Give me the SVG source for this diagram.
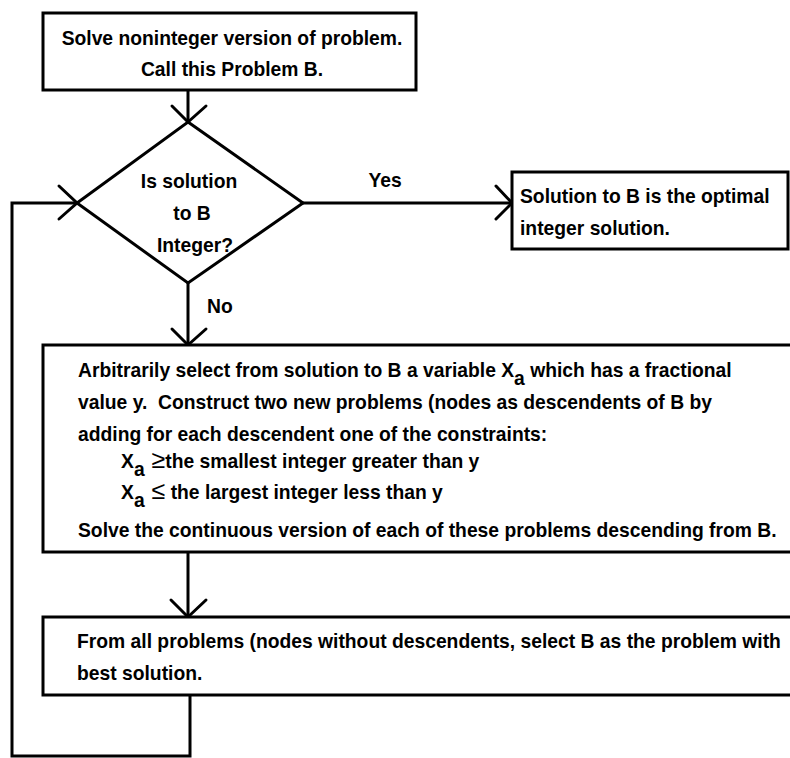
<svg xmlns="http://www.w3.org/2000/svg" width="790" height="758" viewBox="0 0 790 758">
  <style>
    .box { fill: #fff; stroke: #000; stroke-width: 3; }
    .wire { fill: none; stroke: #000; stroke-width: 3; }
    .head { fill: none; stroke: #000; stroke-width: 3; stroke-linecap: round; }
    text { font-family: "Liberation Sans", Arial, sans-serif; font-weight: bold; font-size: 19.3px; fill: #000; }
    .c { text-anchor: middle; }
    .rel { font-size: 25px; font-weight: normal; }
  </style>
  <rect width="790" height="758" fill="#fff"/>

  <!-- connectors -->
  <g id="connectors">
    <line class="wire" x1="188" y1="90" x2="188" y2="122"/>
    <polyline class="head" points="172,106 188,122 206,106"/>

    <line class="wire" x1="303" y1="203" x2="512" y2="203"/>
    <polyline class="head" points="496,186 512,203 496,219"/>
    <text x="385" y="187" class="c">Yes</text>

    <line class="wire" x1="188" y1="283" x2="188" y2="345"/>
    <polyline class="head" points="172,329 188,345 206,329"/>
    <text x="207" y="313">No</text>

    <line class="wire" x1="188" y1="552" x2="188" y2="617"/>
    <polyline class="head" points="171,600 188,617 206,600"/>

    <polyline class="wire" points="190,695 190,756 12,756 12,203 77,203"/>
    <polyline class="head" points="59,186 77,203 59,219"/>
  </g>

  <g id="start">
    <rect class="box" x="43" y="13" width="373" height="77"/>
    <text x="232" y="45" class="c">Solve noninteger version of problem.</text>
    <text x="232" y="76" class="c">Call this Problem B.</text>
  </g>

  <g id="decision">
    <polygon class="box" points="188,122 303,203 188,283 77,203"/>
    <text x="189" y="188" class="c">Is solution</text>
    <text x="192" y="220" class="c">to B</text>
    <text x="195" y="252" class="c">Integer?</text>
  </g>

  <g id="optimal">
    <rect class="box" x="512" y="172" width="276" height="77"/>
    <text x="520" y="203">Solution to B is the optimal</text>
    <text x="520" y="235">integer solution.</text>
  </g>

  <g id="branch">
    <rect class="box" x="43" y="345" width="770" height="207"/>
    <text x="78" y="377">Arbitrarily select from solution to B a variable X<tspan dy="8">a</tspan><tspan dy="-8"> which has a fractional</tspan></text>
    <text x="78" y="409" xml:space="preserve">value y.  Construct two new problems (nodes as descendents of B by</text>
    <text x="78" y="441">adding for each descendent one of the constraints:</text>
    <text x="121" y="468">X<tspan dy="8">a</tspan><tspan dy="-8" class="rel"> ≥</tspan>the smallest integer greater than y</text>
    <text x="121" y="499">X<tspan dy="8">a</tspan><tspan dy="-8" class="rel"> ≤</tspan> the largest integer less than y</text>
    <text x="78" y="537">Solve the continuous version of each of these problems descending from B.</text>
  </g>

  <g id="select">
    <rect class="box" x="43" y="617" width="770" height="78"/>
    <text x="77" y="648">From all problems (nodes without descendents, select B as the problem with</text>
    <text x="77" y="680">best solution.</text>
  </g>
</svg>
